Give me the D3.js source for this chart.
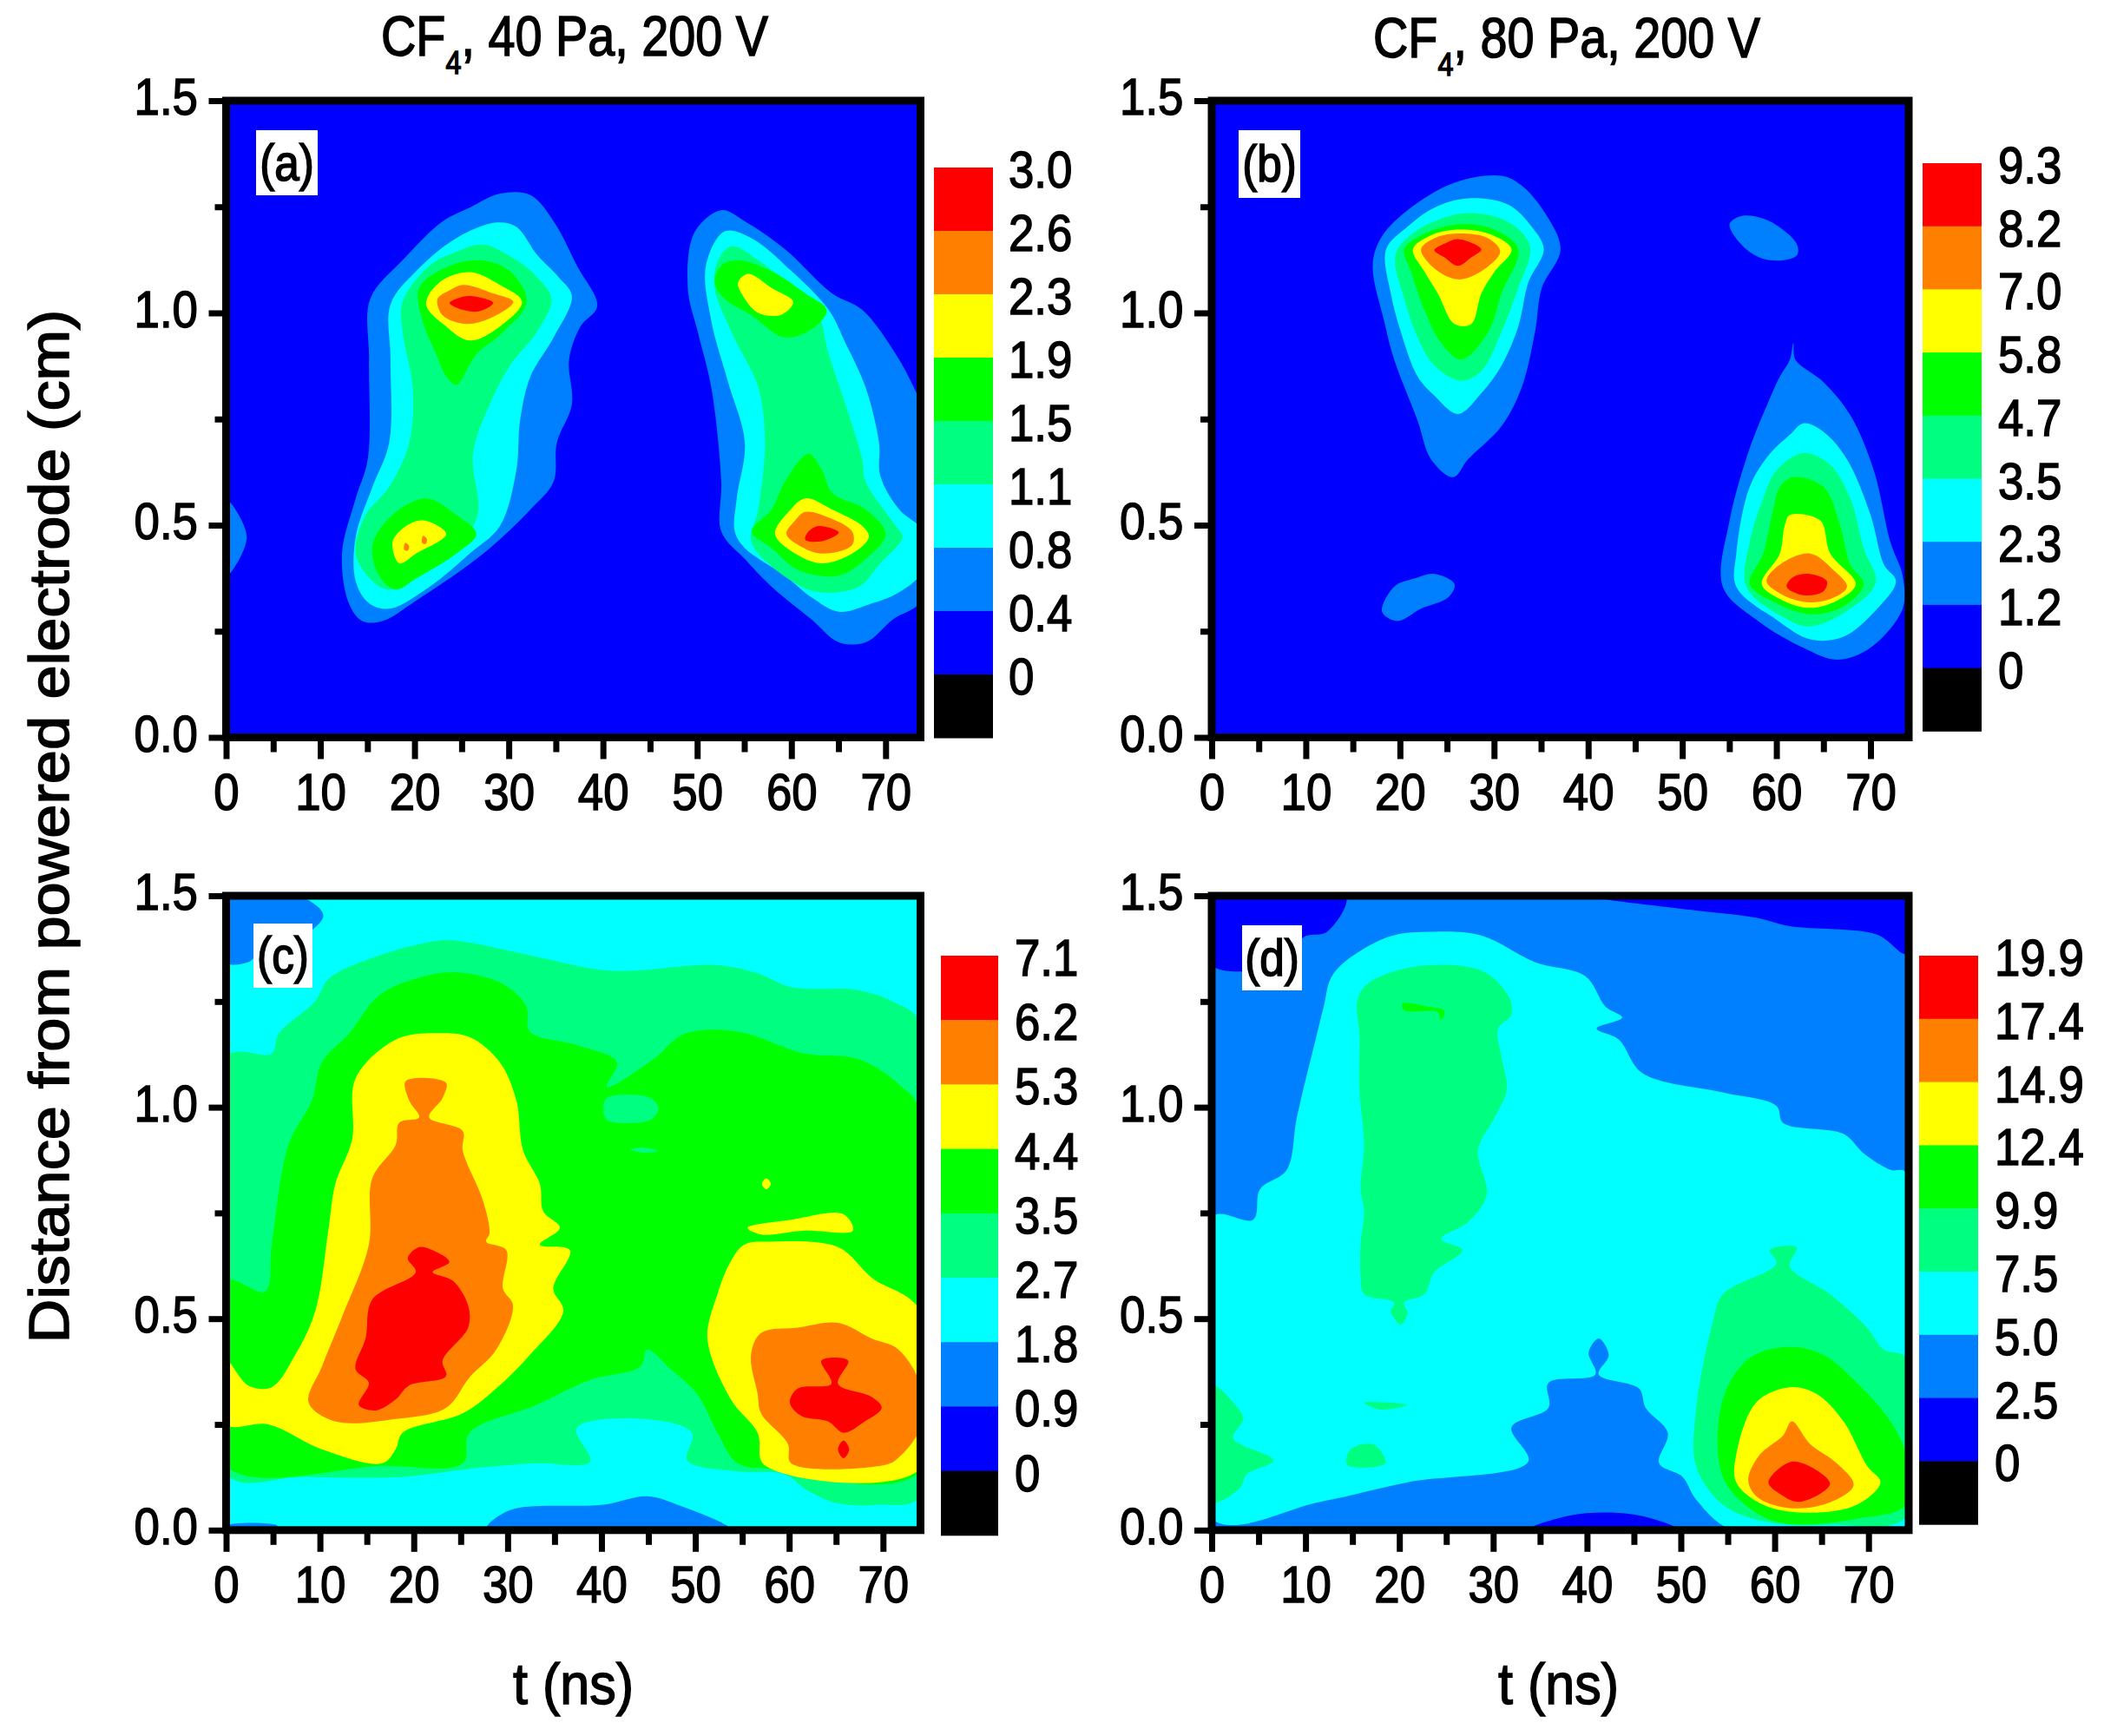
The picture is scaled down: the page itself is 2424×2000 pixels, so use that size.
<!DOCTYPE html>
<html>
<head>
<meta charset="utf-8">
<script src="https://cdn.jsdelivr.net/npm/d3@7"></script>
<style>
  html, body { margin: 0; background: #fff; }
  text { font-family: "Liberation Sans", Arial, sans-serif; fill: #000; stroke: #000; stroke-width: 1.5px; }
</style>
</head>
<body>
<svg id="chart" width="2424" height="2000"></svg>
<script>
'use strict';

// contour levels from the four colour bars
var levels_a = [0, 0.4, 0.8, 1.1, 1.5, 1.9, 2.3, 2.6, 3.0];
var levels_b = [0, 1.2, 2.3, 3.5, 4.7, 5.8, 7.0, 8.2, 9.3];
var levels_c = [0, 0.9, 1.8, 2.7, 3.5, 4.4, 5.3, 6.2, 7.1];
var levels_d = [0, 2.5, 5.0, 7.5, 9.9, 12.4, 14.9, 17.4, 19.9];
var level_labels_a = ["0", "0.4", "0.8", "1.1", "1.5", "1.9", "2.3", "2.6", "3.0"];
var level_labels_b = ["0", "1.2", "2.3", "3.5", "4.7", "5.8", "7.0", "8.2", "9.3"];
var level_labels_c = ["0", "0.9", "1.8", "2.7", "3.5", "4.4", "5.3", "6.2", "7.1"];
var level_labels_d = ["0", "2.5", "5.0", "7.5", "9.9", "12.4", "14.9", "17.4", "19.9"];
var band_colors = ["#000000", "#0000ff", "#0080ff", "#00ffff", "#00ff80", "#00ff00", "#ffff00", "#ff8000", "#ff0000", "#ff0000"];

var time_ticks = [0, 5, 10, 15, 20, 25, 30, 35, 40, 45, 50, 55, 60, 65, 70];
var dist_ticks = [0, 0.25, 0.5, 0.75, 1.0, 1.25, 1.5];

// contour outlines, [t in ns, distance in cm]
// panel (a)
var a_04 = [
  [[29.06,1.281],[32.26,1.278],[34.76,1.216],[37.25,1.111],[39.39,1.016],[37.6,.968],[36.4,.89],[36.7,.785],[35.1,.694],[34.76,.603],[32.3,.537],[27.3,.433],[20.16,.322],[16.6,.274],[14.46,.274],[13.03,.316],[12.3,.433],[13.75,.563],[15.03,.655],[15.17,.89],[15.3,1.033],[18.73,1.124],[23,1.216],[25.85,1.248]],
  [[52.56,1.242],[55.06,1.216],[59.33,1.15],[64.32,1.046],[67.52,1.007],[71.08,.903],[73,.824],[74,.766],[74,.329],[70.73,.277],[67.88,.224],[65.03,.224],[62.18,.277],[57.9,.355],[55.06,.42],[52.56,.485],[52.56,.603],[51.5,.824],[50.07,.955],[49,1.059],[49.72,1.19]],
  [[0,.56],[2.2,.472],[0,.38]]
];
var a_08 = [
  [[28.7,1.213],[30.8,1.203],[33,1.137],[35.26,1.085],[36.7,1.04],[34.76,.942],[32.3,.85],[31.2,.746],[30.8,.629],[29.06,.498],[25.85,.433],[21.6,.355],[17.3,.303],[15.17,.316],[13.75,.368],[13.75,.472],[15.53,.59],[17.3,.694],[17.45,.89],[17.45,1.02],[20.16,1.098],[24.43,1.176]],
  [[52.92,1.192],[55.77,1.176],[60.04,1.098],[63.96,1.007],[65.74,.929],[67.88,.824],[69.3,.694],[69.44,.616],[71.44,.537],[74,.485],[74,.394],[71.44,.342],[68.59,.316],[65.03,.296],[62.18,.329],[59.33,.381],[55.06,.446],[53.99,.485],[54.2,.563],[55.06,.694],[53.28,.837],[51.5,.981],[50.93,1.111]]
];
var a_11 = [
  [[27.28,1.161],[30.84,1.124],[32.98,1.085],[34.54,1.033],[32.98,.955],[30.13,.876],[27.99,.785],[26.2,.668],[26.7,.524],[24.43,.446],[20.16,.381],[17.3,.348],[15.53,.368],[13.75,.433],[14.81,.524],[17.3,.59],[19.44,.694],[19.8,.824],[18.73,.955],[18.73,1.026],[21.58,1.111],[24.43,1.144]],
  [[53.63,1.157],[56.48,1.124],[60.75,1.046],[62.89,.994],[63.96,.903],[65.74,.785],[67.52,.655],[67.88,.603],[71.08,.498],[71.79,.472],[69.3,.407],[67.17,.355],[62.89,.342],[60.04,.368],[55.77,.459],[56.48,.537],[57.19,.694],[56.48,.824],[53.63,.955],[51.85,1.059],[52.21,1.124]]
];
var a_15 = [
  [[26.92,1.124],[30.13,1.098],[31.9,1.026],[29.4,.955],[26.57,.903],[24.43,.831],[23.36,.85],[22.3,.903],[20.87,.981],[20.5,1.059],[23.72,1.111]],
  [[21.2,.563],[24.43,.524],[26.57,.479],[24.43,.433],[20.16,.374],[18,.348],[16.24,.381],[15.53,.453],[17.66,.524]],
  [[54.35,1.124],[57.9,1.098],[61.47,1.046],[63.75,1.007],[62.54,.968],[59.33,.942],[55.77,.994],[52.92,1.033],[51.85,1.072],[52.56,1.111]],
  [[61.82,.668],[63.25,.629],[64.32,.576],[67.88,.537],[70.01,.479],[67.88,.42],[65.03,.381],[60.75,.394],[57.9,.446],[55.77,.485],[57.9,.537],[59.33,.603]]
];
var a_19 = [
  [[25.85,1.096],[29.06,1.066],[31.41,1.026],[29.06,.968],[25.85,.935],[23.36,.968],[21.23,1.02],[22.65,1.072]],
  [[20.87,.511],[23.36,.479],[20.16,.433],[18.38,.41],[17.66,.459],[18.73,.492]],
  [[55.41,1.092],[57.9,1.059],[60.19,1.026],[58.97,.996],[56.48,1],[54.7,1.046],[54.35,1.072]],
  [[61.47,.563],[64.32,.537],[67.52,.498],[68.23,.472],[66.45,.433],[63.25,.41],[60.4,.433],[58.26,.479],[59.69,.531]]
];
var a_23 = [
  [[25.14,1.066],[28.35,1.046],[30.48,1.026],[27.99,.987],[25.5,.974],[23,.994],[22.44,1.033],[23.72,1.053]],
  [[61.47,.531],[63.96,.518],[66.45,.485],[66.45,.453],[63.25,.433],[60.75,.453],[59.47,.479],[60.4,.511]],
  [[19,.458],[19.4,.452],[19.3,.44],[18.9,.442]],
  [[20.9,.475],[21.3,.468],[21.2,.456],[20.8,.458]]
];
var a_26 = [
  [[25.85,1.04],[28.35,1.024],[26.92,1.004],[25.14,1.007],[23.72,1.023],[24.43,1.033]],
  [[62.89,.498],[65.03,.483],[63.25,.462],[61.47,.466],[61.82,.485]]
];

// panel (b)
var b_12 = [
  [[30.79,1.323],[32.93,1.3],[35.42,1.235],[37.06,1.15],[35.07,1.059],[34.35,.955],[32.93,.824],[30.79,.733],[27.23,.655],[25.66,.613],[23.31,.655],[21.88,.746],[19.39,.89],[18.32,.981],[17.11,1.111],[17.96,1.176],[20.81,1.242],[25.8,1.307]],
  [[56.45,1.229],[59.3,1.216],[62.15,1.163],[62.15,1.135],[59.3,1.124],[56.81,1.15],[55.03,1.209]],
  [[23.66,.385],[25.8,.361],[25.09,.329],[22.24,.303],[19.74,.274],[18.1,.296],[19.39,.355],[21.53,.374]],
  [[61.8,.929],[62.01,.89],[65,.837],[67.85,.759],[70.35,.629],[72.13,.459],[73.41,.381],[73.41,.303],[70,.211],[66.43,.183],[62.87,.211],[57.88,.277],[54.31,.355],[55.03,.511],[57.16,.681],[59.3,.798],[60.37,.85],[61.44,.89]]
];
var b_23 = [
  [[27.23,1.27],[31.5,1.255],[34,1.203],[35.28,1.15],[33.64,1.072],[32.57,.968],[30.79,.876],[28.65,.811],[26.16,.762],[23.66,.805],[21.88,.85],[20.1,.955],[19.03,1.046],[18.53,1.15],[20.81,1.203],[23.66,1.248]],
  [[62.87,.74],[65,.72],[67.5,.655],[70,.524],[71.42,.407],[72.7,.368],[70.71,.303],[67.14,.237],[63.58,.231],[60.01,.277],[55.74,.355],[55.74,.433],[57.16,.59],[59.3,.668],[61.44,.713]]
];
var b_35 = [
  [[27.23,1.235],[30.79,1.222],[32.93,1.19],[33.86,1.15],[32.57,1.059],[30.79,.955],[28.65,.863],[26.51,.84],[23.66,.876],[21.88,.942],[20.46,1.033],[19.53,1.137],[21.53,1.19],[24.38,1.222]],
  [[62.87,.67],[65.72,.642],[67.85,.563],[69.28,.446],[70.56,.365],[67.85,.303],[63.58,.261],[60.73,.283],[56.81,.355],[57.16,.459],[58.59,.563],[60.01,.629]]
];
var b_47 = [
  [[26.51,1.209],[30.08,1.196],[32.57,1.15],[30.79,1.046],[29.37,.955],[26.51,.89],[24.38,.929],[22.59,1.007],[21.17,1.098],[20.46,1.15],[22.95,1.19]],
  [[61.8,.613],[65,.59],[66.79,.498],[67.85,.407],[69.28,.361],[67.14,.309],[63.58,.29],[60.01,.316],[57.16,.361],[58.59,.433],[59.66,.537],[60.37,.59]]
];
var b_58 = [
  [[25.8,1.196],[29.37,1.187],[31.86,1.15],[30.08,1.098],[28.65,1.046],[27.58,.974],[25.8,.974],[24.02,1.046],[22.59,1.098],[21.38,1.15],[23.31,1.183]],
  [[61.44,.524],[64.65,.511],[65.72,.433],[68.43,.361],[66.43,.322],[63.58,.305],[60.73,.322],[58.45,.361],[60.37,.433],[60.87,.498]]
];
var b_70 = [
  [[26.16,1.187],[29.37,1.176],[30.65,1.144],[28.65,1.098],[26.16,1.079],[23.66,1.105],[22.24,1.15],[23.66,1.176]],
  [[63.58,.433],[66.07,.394],[67.5,.355],[66.07,.329],[63.58,.318],[60.73,.335],[58.95,.368],[60.37,.407]]
];
var b_82 = [
  [[26.16,1.174],[28.65,1.15],[27.58,1.131],[26.16,1.111],[24.73,1.131],[23.66,1.148],[24.73,1.163]],
  [[63.58,.385],[65.36,.368],[65,.344],[62.87,.335],[61.08,.355],[61.8,.378]]
];

// panel (c), cyan is the field behind everything
var c_09 = [
  [[0,1.5],[7.71,1.5],[10.36,1.454],[8.07,1.402],[3.79,1.369],[2.36,1.343],[0,1.343]],
  [[27.71,0],[30.2,.047],[40.2,.06],[44.86,.08],[48.07,.06],[53.79,0]],
  [[0,0],[0,.01],[5.5,.01],[5.5,0]]
];
var c_27 = [
  [[0,1.12],[4.86,1.127],[5.57,1.173],[9.5,1.251],[10.93,1.304],[15.93,1.356],[23.07,1.395],[25.93,1.389],[33.07,1.356],[40.93,1.323],[52.36,1.336],[56.64,1.317],[60.21,1.284],[67.36,1.277],[70.93,1.251],[74,1.199],[74,.08],[69.5,.06],[65.21,.063],[62,.093],[59.5,.132],[54.5,.139],[49.14,.165],[49.64,.23],[44.5,.263],[37.36,.241],[38.79,.162],[33.07,.158],[25.93,.145],[18.79,.126],[8.07,.126],[0,.132]]
];
var c_35 = [
  [[0,.59],[4.14,.564],[4.86,.675],[6.64,.911],[9.14,1.016],[10.21,1.107],[13.07,1.173],[16.29,1.264],[20.21,1.304],[24.5,1.319],[29.5,1.291],[32,1.238],[32.36,1.179],[37.36,1.147],[41.64,1.107],[40.57,1.048],[45.57,1.114],[48.79,1.173],[54.5,1.179],[61.64,1.127],[67.36,1.114],[71.64,1.055],[74,.99],[74,.139],[58.07,.145],[54.5,.158],[52.36,.23],[50.21,.322],[47.36,.381],[44.86,.427],[44.14,.387],[38.79,.355],[33.07,.296],[25.93,.23],[25.21,.158],[16.64,.152],[0,.152]]
];
var c_27_islands = [
  [[40.57,1.022],[45.21,1.022],[46.07,.996],[45.21,.97],[40.57,.97],[40.21,.996]],
  [[43.1,.9],[44.5,.904],[46,.897],[44.5,.892]]
];
var c_44 = [
  [[0,.401],[2.36,.342],[4.86,.338],[7.36,.414],[9.5,.518],[10.93,.715],[11.64,.819],[13.43,.924],[13.79,1.068],[18.07,1.16],[22.36,1.175],[25.93,1.166],[29.14,1.107],[30.93,1.016],[31.64,.898],[33.43,.819],[33.79,.754],[35.57,.715],[33.43,.675],[36.64,.662],[34.86,.571],[35.93,.518],[32.36,.414],[28.79,.335],[25.21,.276],[18.79,.23],[18.07,.191],[16.64,.158],[10.21,.191],[4.5,.25],[0,.25]],
  [[53.79,.636],[55.21,.675],[58.07,.682],[65.21,.669],[68.79,.597],[74,.518],[74,.145],[57.36,.154],[56.64,.23],[53.79,.309],[51.29,.453],[52.36,.558]],
  [[55.57,.715],[60.21,.734],[65.79,.747],[66.79,.708],[61.64,.708],[57,.699]],
  [[57.1,.819],[57.57,.832],[58.05,.819],[57.57,.806]]
];
var c_53 = [
  [[19.14,1.062],[23.43,1.058],[23.07,1.022],[21.64,.976],[25.21,.944],[25.21,.898],[27.36,.78],[28.07,.702],[27.71,.682],[29.86,.662],[29.5,.571],[30.57,.531],[28.79,.427],[25.93,.361],[23.43,.289],[18.07,.263],[11.64,.257],[8.79,.302],[10.21,.387],[12.36,.505],[15.21,.675],[15.57,.832],[18.07,.911],[18.43,.963],[20.57,.976],[19.5,1.016]],
  [[60.93,.479],[65.21,.49],[68.79,.453],[71.64,.427],[74,.342],[74,.243],[71.64,.171],[70.21,.154],[60.21,.158],[59.86,.204],[57,.276],[56.64,.322],[55.93,.414],[57,.466]]
];
var c_62 = [
  [[20.57,.669],[22,.662],[23.79,.634],[22,.61],[24.14,.59],[25.79,.531],[25.79,.479],[23.07,.401],[23.43,.364],[19.5,.342],[18.07,.309],[15.93,.283],[14.14,.296],[15.21,.348],[13.79,.381],[14.86,.453],[15.57,.545],[20.21,.61],[19.36,.643]],
  [[63.43,.401],[66.29,.401],[65.21,.346],[68.79,.315],[69.86,.289],[68.07,.257],[65.79,.23],[64.14,.257],[61.29,.27],[60.07,.302],[60.93,.335],[64.5,.346]],
  [[65.2,.191],[65.79,.212],[66.4,.191],[65.79,.17]]
];

// panel (d), the 2.5 band is the field behind everything
var d_00 = [
  [[0,1.5],[14.3,1.5],[12.3,1.415],[9.79,1.402],[8,1.343],[0,1.336]],
  [[40.17,1.5],[50.9,1.467],[58.04,1.448],[61.62,1.428],[70.9,1.408],[74,1.363],[74,1.5]],
  [[33.74,0],[38.03,.034],[43.03,.041],[47,.027],[49.82,0]]
];
var d_50 = [
  [[0,.741],[4.43,.734],[5.15,.806],[8,.852],[9.08,.976],[11.22,1.173],[11.94,1.238],[13.01,1.317],[18.73,1.402],[23.73,1.415],[28.73,1.406],[34.45,1.343],[39.81,1.31],[41.96,1.238],[43.75,1.212],[41.03,1.186],[43.39,1.16],[45.89,1.081],[54.47,1.035],[60.19,1.003],[60.9,.963],[67.33,.937],[69.48,.891],[72.34,.852],[74,.846],[74,0],[55.54,0],[51.61,.073],[50.18,.126],[47.68,.158],[48.61,.23],[46.25,.289],[45.53,.335],[41.24,.368],[42.32,.414],[41.24,.453],[40.17,.42],[40.89,.368],[35.88,.348],[35.88,.289],[31.95,.243],[33.74,.162],[20.87,.113],[11.58,.067],[0,.027]]
];
var d_75 = [
  [[16.58,1.291],[21.59,1.332],[28.73,1.323],[31.59,1.264],[31.95,1.219],[30.52,1.186],[30.88,1.12],[31.45,1.042],[30.16,.976],[28.38,.898],[29.31,.793],[27.31,.728],[24.45,.688],[26.73,.662],[23.73,.61],[22.66,.558],[20.51,.538],[20.87,.512],[20.16,.486],[19.08,.518],[19.44,.538],[16.23,.558],[15.87,.597],[15.87,.675],[16.23,.754],[15.87,.806],[16.23,.911],[15.73,1.042],[15.73,1.173],[15.51,1.251]],
  [[0,.342],[2.29,.302],[3.36,.263],[2.29,.217],[6.58,.165],[3.72,.132],[3,.099],[0,.067]],
  [[16.23,.302],[20.87,.296],[18,.285]],
  [[14.8,.191],[17.3,.202],[18.51,.158],[14.44,.154]],
  [[59.47,.662],[62.33,.669],[61.62,.623],[65.9,.558],[69.84,.479],[71.62,.427],[74,.407],[74,.031],[65.9,.013],[58.76,.021],[54.47,.06],[51.61,.152],[51.61,.283],[53.4,.492],[54.47,.558],[60.19,.63]]
];
var d_99 = [
  [[20.3,1.245],[23.02,1.238],[24.8,1.228],[24.45,1.206],[24.09,1.225],[20.51,1.229]],
  [[61.62,.433],[65.19,.414],[68.76,.348],[72.34,.257],[74,.178],[74,.06],[68.76,.027],[61.62,.014],[58.04,.041],[54.47,.126],[54.47,.309],[57.33,.407]]
];
var d_124 = [
  [[61.62,.338],[64.48,.322],[67.33,.257],[69.84,.152],[71.27,.113],[68.76,.06],[63.76,.041],[58.76,.06],[55.9,.113],[55.9,.178],[58.04,.302]]
];
var d_149 = [
  [[61.83,.257],[63.76,.204],[66.62,.158],[68.41,.106],[65.19,.06],[60.9,.054],[58.04,.08],[57.18,.119],[58.4,.178],[60.9,.224]]
];
var d_174 = [
  [[61.97,.162],[65.9,.11],[62.69,.067],[60.54,.086],[59.33,.113]]
];

var panels = [
  { tag: "(a)", levels: levels_a, labels: level_labels_a, field: 0,
    layers: [[0.4, a_04], [0.8, a_08], [1.1, a_11], [1.5, a_15], [1.9, a_19], [2.3, a_23], [2.6, a_26]],
    left: 260.5, x70: 1020.3, right: 1060.5, top: 116, bottom: 849.5,
    bar: [1076, 193, 68, 73], bar_label_x: 1162, tag_box: [295, 150, 71, 75] },
  { tag: "(b)", levels: levels_b, labels: level_labels_b, field: 0,
    layers: [[1.2, b_12], [2.3, b_23], [3.5, b_35], [4.7, b_47], [5.8, b_58], [7.0, b_70], [8.2, b_82]],
    left: 1396, x70: 2155, right: 2199, top: 116, bottom: 849.5,
    bar: [2215, 188, 68, 72.7], bar_label_x: 2302, tag_box: [1427, 150, 71, 78] },
  { tag: "(c)", levels: levels_c, labels: level_labels_c, field: 1.8,
    layers: [[0.9, c_09], [2.7, c_27], [3.5, c_35], [2.7, c_27_islands], [4.4, c_44], [5.3, c_53], [6.2, c_62]],
    left: 260.5, x70: 1017.3, right: 1060.5, top: 1032, bottom: 1762.8,
    bar: [1084, 1101, 66, 74.2], bar_label_x: 1169, tag_box: [292, 1064, 68, 74] },
  { tag: "(d)", levels: levels_d, labels: level_labels_d, field: 2.5,
    layers: [[0, d_00], [5.0, d_50], [7.5, d_75], [9.9, d_99], [12.4, d_124], [14.9, d_149], [17.4, d_174]],
    left: 1396, x70: 2152.7, right: 2199, top: 1032, bottom: 1762.8,
    bar: [2211, 1101, 68, 72.8], bar_label_x: 2298, tag_box: [1431, 1066, 69, 75] }
];

var svg = d3.select("#chart");
var font_size = 60, squeeze = "scale(0.88,1)";

function draw_panel(p, idx) {
  var x = d3.scaleLinear().domain([0, 70]).range([p.left, p.x70]);
  var y = d3.scaleLinear().domain([0, 1.5]).range([p.bottom, p.top]);
  var color = d3.scaleThreshold().domain(p.levels).range(band_colors);
  var line = d3.line().x(function(d) { return x(d[0]); }).y(function(d) { return y(d[1]); })
    .curve(d3.curveCatmullRomClosed.alpha(0.5));

  svg.append("clipPath").attr("id", "clip" + idx).append("rect")
    .attr("x", p.left).attr("y", p.top)
    .attr("width", p.right - p.left).attr("height", p.bottom - p.top);

  var plot = svg.append("g").attr("clip-path", "url(#clip" + idx + ")");
  plot.append("rect")
    .attr("x", p.left).attr("y", p.top)
    .attr("width", p.right - p.left).attr("height", p.bottom - p.top)
    .attr("fill", color(p.field));

  p.layers.forEach(function(layer) {
    plot.selectAll(null).data(layer[1]).enter().append("path")
      .attr("d", line)
      .attr("fill", color(layer[0]));
  });

  // x axis, labels only every 10 ns
  var x_axis = svg.append("g")
    .attr("transform", "translate(0," + p.bottom + ")")
    .call(d3.axisBottom(x).tickValues(time_ticks).tickSize(25).tickSizeOuter(0)
      .tickFormat(function(d) { return d % 10 === 0 ? d : ""; }));
  x_axis.select(".domain").remove();
  x_axis.selectAll(".tick line").attr("stroke", "#000").attr("stroke-width", 7)
    .attr("y2", function(d) { return d % 10 === 0 ? 25 : 17; });
  x_axis.selectAll(".tick text")
    .attr("y", 41).attr("dy", "0.71em")
    .attr("transform", squeeze)
    .attr("font-size", font_size).attr("font-family", null);

  var y_axis = svg.append("g")
    .attr("transform", "translate(" + p.left + ",0)")
    .call(d3.axisLeft(y).tickValues(dist_ticks).tickSize(20).tickSizeOuter(0)
      .tickFormat(function(d) { return d * 2 % 1 === 0 ? d3.format(".1f")(d) : ""; }));
  y_axis.select(".domain").remove();
  y_axis.selectAll(".tick line").attr("stroke", "#000").attr("stroke-width", 7)
    .attr("x2", function(d) { return d * 2 % 1 === 0 ? -20 : -13; });
  y_axis.selectAll(".tick text")
    .attr("x", -37).attr("dy", "0.26em")
    .attr("transform", squeeze)
    .attr("font-size", font_size).attr("font-family", null);

  svg.append("rect")
    .attr("x", p.left).attr("y", p.top)
    .attr("width", p.right - p.left).attr("height", p.bottom - p.top)
    .attr("fill", "none").attr("stroke", "#000").attr("stroke-width", 9);

  // white box behind the panel letter
  svg.append("rect")
    .attr("x", p.tag_box[0]).attr("y", p.tag_box[1])
    .attr("width", p.tag_box[2]).attr("height", p.tag_box[3])
    .attr("fill", "#fff");
  svg.append("text")
    .attr("transform", "translate(" + (p.tag_box[0] + p.tag_box[2] / 2) + "," +
      (p.tag_box[1] + p.tag_box[3] / 2 + 20) + ") scale(0.95,1.1)")
    .attr("text-anchor", "middle").attr("font-size", 54)
    .text(p.tag);

  // colour bar, one step per level plus the black step under zero
  var bar = svg.append("g");
  var steps = p.levels.slice().reverse();
  var bar_y = d3.scalePoint().domain(steps).range([p.bar[1], p.bar[1] + p.bar[3] * (steps.length - 1)]);
  bar.selectAll("rect").data(steps).enter().append("rect")
    .attr("x", p.bar[0]).attr("y", function(d) { return bar_y(d); })
    .attr("width", p.bar[2]).attr("height", p.bar[3] + 0.5)
    .attr("fill", function(d, i) { return band_colors[band_colors.length - 2 - i]; });
  bar.selectAll("text").data(p.labels.slice().reverse()).enter().append("text")
    .attr("transform", function(d, i) {
      return "translate(" + p.bar_label_x + "," + (bar_y(steps[i]) + 23) + ") " + squeeze;
    })
    .attr("font-size", font_size)
    .text(function(d) { return d; });
}

panels.forEach(draw_panel);

// titles
function draw_title(mid, base, pressure) {
  var t = svg.append("text")
    .attr("transform", "translate(" + mid + "," + base + ") scale(0.9,1.05)")
    .attr("text-anchor", "middle").attr("font-size", 62);
  t.append("tspan").text("CF");
  t.append("tspan").attr("font-size", 36).attr("dy", 20).text("4");
  t.append("tspan").attr("dy", -20).text(", " + pressure + " Pa, 200 V");
}
draw_title(662, 64, 40);
draw_title(1805, 66, 80);

// axis titles
svg.append("text")
  .attr("transform", "translate(79,952) rotate(-90)")
  .attr("text-anchor", "middle").attr("font-size", 64)
  .attr("textLength", 1191).attr("lengthAdjust", "spacingAndGlyphs")
  .text("Distance from powered electrode (cm)");

[660.5, 1795.5].forEach(function(mid) {
  svg.append("text")
    .attr("x", mid).attr("y", 1963)
    .attr("text-anchor", "middle").attr("font-size", 66)
    .attr("textLength", 139).attr("lengthAdjust", "spacingAndGlyphs")
    .text("t (ns)");
});
</script>
</body>
</html>
